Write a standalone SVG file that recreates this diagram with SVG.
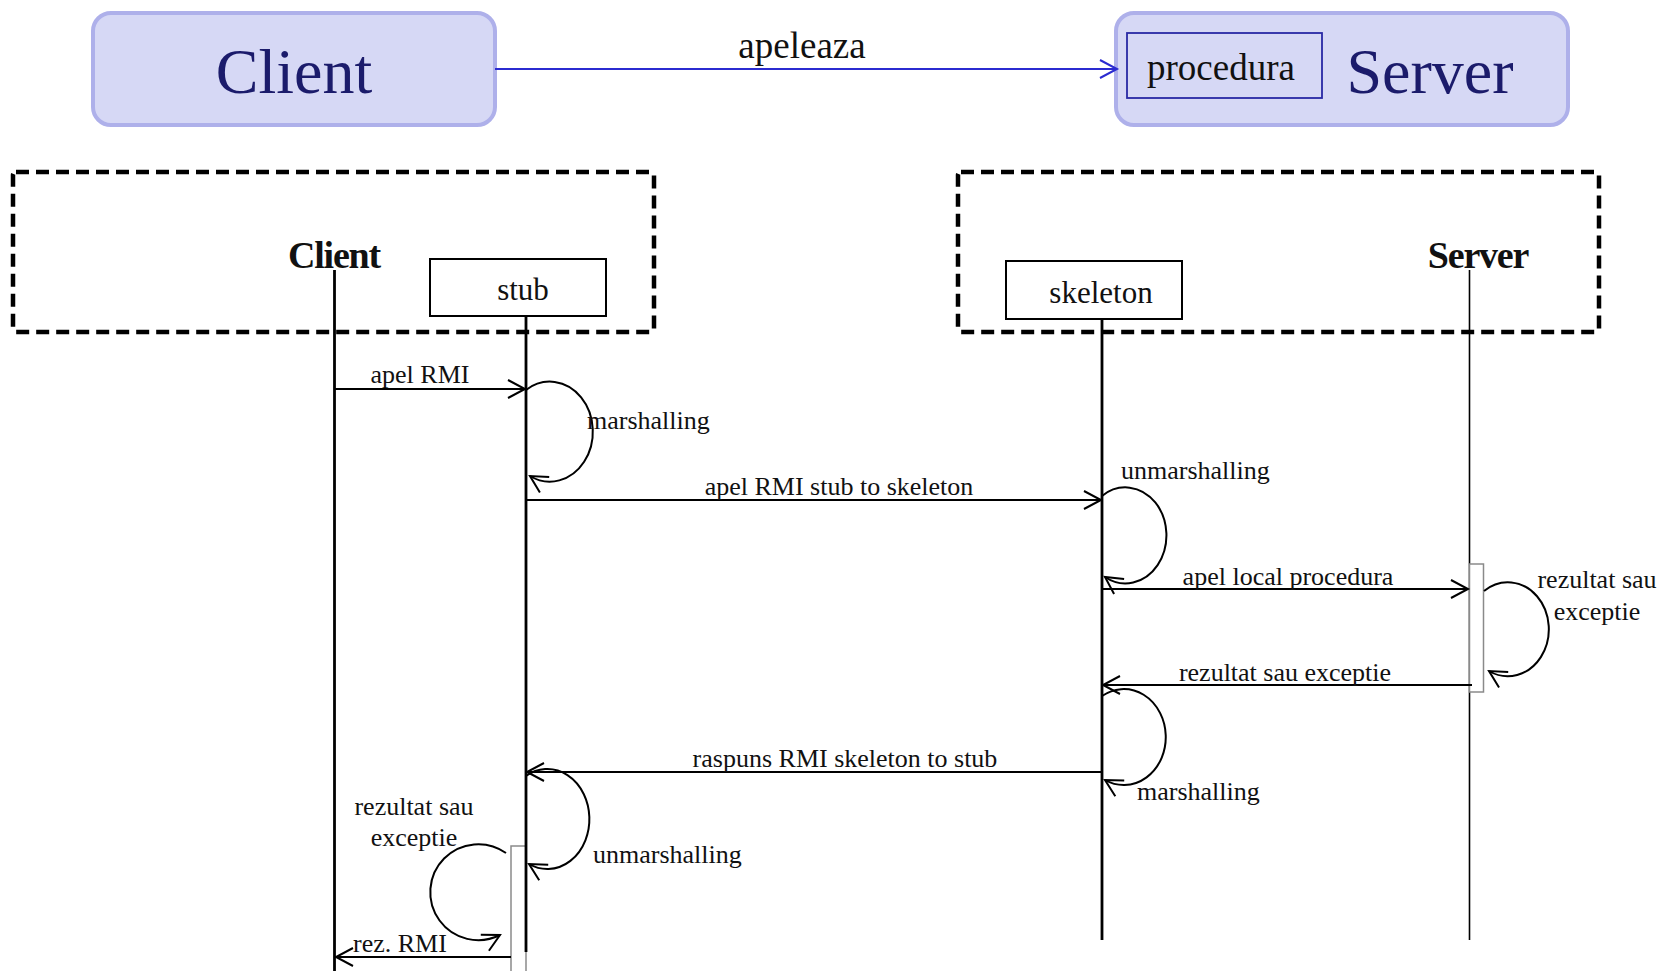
<svg xmlns="http://www.w3.org/2000/svg" width="1665" height="971" viewBox="0 0 1665 971">
<style>
  text { font-family: "Liberation Serif", "Times New Roman", serif; fill: #111; }
  .big { font-size: 64px; fill: #1b1b6b; text-anchor: middle; }
  .lbl { font-size: 26px; }
  .mid { text-anchor: middle; }
  .bold { font-size: 38px; font-weight: bold; text-anchor: middle; letter-spacing: -1.2px; }
  .box { font-size: 31px; text-anchor: middle; }
  .comp { fill: #d6d8f5; stroke: #aeb0ea; stroke-width: 4; }
  .dash { fill: none; stroke: #000; stroke-width: 4.5; stroke-dasharray: 13 7; }
  .obj { fill: #fff; stroke: #000; stroke-width: 2; }
  .life { stroke: #000; stroke-width: 2.8; fill: none; }
  .thin { stroke: #000; stroke-width: 1.6; fill: none; }
  .act { fill: #fff; stroke: #8a8a8a; stroke-width: 1.5; }
  .msg { stroke: #000; stroke-width: 2; fill: none; marker-end: url(#arr); }
</style>
<defs>
  <marker id="arr" viewBox="-20 -12 24 24" refX="0" refY="0" markerWidth="24" markerHeight="24" markerUnits="userSpaceOnUse" orient="auto">
    <path d="M-17,-9 L0,0 L-17,9" fill="none" stroke="#000" stroke-width="2"/>
  </marker>
  <marker id="arrb" viewBox="-20 -12 24 24" refX="0" refY="0" markerWidth="24" markerHeight="24" markerUnits="userSpaceOnUse" orient="auto">
    <path d="M-17,-9 L0,0 L-17,9" fill="none" stroke="#2b2bd0" stroke-width="2"/>
  </marker>
</defs>

<g id="client-component">
  <rect class="comp" x="93" y="13" width="402" height="112" rx="18"/>
  <text class="big" x="294" y="93">Client</text>
</g>
<g id="server-component">
  <rect class="comp" x="1116" y="13" width="452" height="112" rx="18"/>
  <rect x="1127" y="33" width="195" height="65" fill="none" stroke="#2929a5" stroke-width="1.8"/>
  <text x="1221" y="80" style="font-size:37px;text-anchor:middle">procedura</text>
  <text class="big" x="1430" y="93">Server</text>
</g>

<g id="client-group">
  <rect class="dash" x="13" y="172" width="641" height="160" rx="3"/>
</g>
<g id="server-group">
  <rect class="dash" x="958" y="172" width="641" height="160" rx="3"/>
</g>

<g id="lifeline-client">
  <text class="bold" x="334" y="268">Client</text>
  <line class="life" x1="334.5" y1="270" x2="334.5" y2="971"/>
</g>
<g id="lifeline-stub">
  <rect class="obj" x="430" y="259" width="176" height="57"/>
  <text class="box" x="523" y="300">stub</text>
  <rect class="act" x="511" y="846" width="15" height="130"/>
  <line class="life" x1="526" y1="316" x2="526" y2="952"/>
</g>
<g id="lifeline-skeleton">
  <rect class="obj" x="1006" y="261" width="176" height="58"/>
  <text class="box" x="1101" y="303">skeleton</text>
  <line class="life" x1="1102" y1="319" x2="1102" y2="940"/>
</g>
<g id="lifeline-server">
  <text class="bold" x="1478" y="268">Server</text>
  <line class="thin" x1="1469.5" y1="270" x2="1469.5" y2="940"/>
  <rect class="act" x="1469.5" y="564" width="14" height="128"/>
</g>

<g id="connectors">
  <line x1="495" y1="69" x2="1117" y2="69" stroke="#2b2bd0" stroke-width="1.8" marker-end="url(#arrb)"/>
  <text x="802" y="58" style="font-size:37px;text-anchor:middle">apeleaza</text>

  <line class="msg" x1="335" y1="389" x2="525" y2="389"/>
  <text class="lbl mid" x="420" y="383">apel RMI</text>

  <path class="msg" d="M526 390 A43 50 0 1 1 530 476"/>
  <text class="lbl" x="587" y="429">marshalling</text>

  <line class="msg" x1="526" y1="500" x2="1101" y2="500"/>
  <text class="lbl mid" x="839" y="495">apel RMI stub to skeleton</text>

  <path class="msg" d="M1102 496 A41 48 0 1 1 1105 577"/>
  <text class="lbl" x="1121" y="479">unmarshalling</text>

  <line class="msg" x1="1102" y1="589" x2="1468" y2="589"/>
  <text class="lbl mid" x="1288" y="585">apel local procedura</text>

  <path class="msg" d="M1484 591 A41 47 0 1 1 1489 671"/>
  <text class="lbl mid" x="1597" y="588">rezultat sau</text>
  <text class="lbl mid" x="1597" y="620">exceptie</text>

  <line class="msg" x1="1472" y1="685" x2="1103" y2="685"/>
  <text class="lbl mid" x="1285" y="681">rezultat sau exceptie</text>

  <path class="msg" d="M1102 696 A42 48 0 1 1 1105 780"/>
  <text class="lbl" x="1137" y="800">marshalling</text>

  <line class="msg" x1="1102" y1="772" x2="527" y2="772"/>
  <text class="lbl mid" x="845" y="767">raspuns RMI skeleton to stub</text>

  <path class="msg" d="M526 776 A42 50 0 1 1 529 864"/>
  <text class="lbl" x="593" y="863">unmarshalling</text>

  <path class="msg" d="M506 853 A48 48 0 1 0 500 935"/>
  <text class="lbl mid" x="414" y="815">rezultat sau</text>
  <text class="lbl mid" x="414" y="846">exceptie</text>

  <line class="msg" x1="511" y1="957" x2="336" y2="957"/>
  <text class="lbl" x="353" y="952">rez. RMI</text>
</g>
</svg>
